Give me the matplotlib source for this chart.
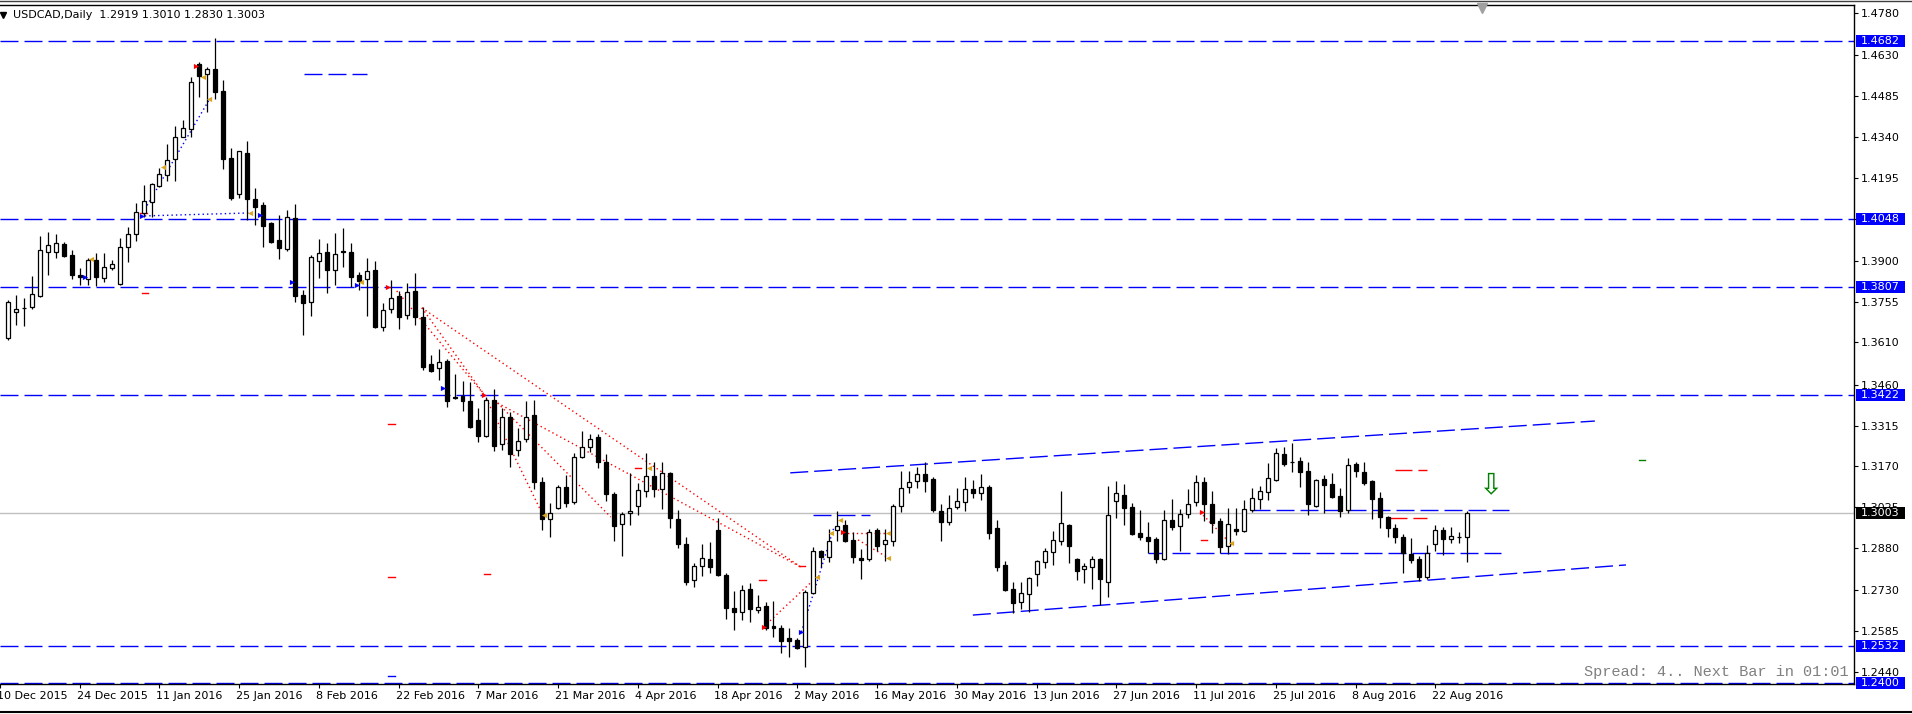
import numpy as np
import pandas as pd
import matplotlib
matplotlib.use('Agg')
import matplotlib.pyplot as plt
from matplotlib.patches import Rectangle
from matplotlib.transforms import blended_transform_factory

plt.rcParams['font.family'] = ['DejaVu Sans']
plt.rcParams['lines.scale_dashes'] = False

# trading days (no bars on 25 Dec and 1 Jan); first one only carries the clipped label
all_dates = [d for d in pd.bdate_range('2015-12-10', '2016-08-26')
             if (d.month, d.day) not in [(12, 25), (1, 1)]]
bar_dates = all_dates[1:]

opens = [1.3626, 1.3718, 1.3731, 1.3736, 1.3775, 1.3931, 1.3931, 1.3960, 1.3921, 1.3850,
         1.3836, 1.3903, 1.3839, 1.3875, 1.3818, 1.3949, 1.3995, 1.4070, 1.4109, 1.4166,
         1.4205, 1.4262, 1.4340, 1.4368, 1.4599, 1.4563, 1.4581, 1.4503, 1.4265, 1.4137,
         1.4283, 1.4120, 1.4098, 1.4034, 1.3974, 1.3942, 1.4052, 1.3779, 1.3754, 1.3899,
         1.3931, 1.3867, 1.3935, 1.3931, 1.3850, 1.3836, 1.3867, 1.3665, 1.3729, 1.3775,
         1.3708, 1.3793, 1.3701, 1.3533, 1.3518, 1.3543, 1.3417, 1.3420, 1.3402, 1.3335,
         1.3278, 1.3406, 1.3250, 1.3346, 1.3228, 1.3268, 1.3353, 1.3115, 1.2983, 1.3022,
         1.3097, 1.3044, 1.3204, 1.3239, 1.3275, 1.3186, 1.3072, 1.2965, 1.3005, 1.3029,
         1.3083, 1.3136, 1.3090, 1.3147, 1.2983, 1.2894, 1.2767, 1.2816, 1.2841, 1.2944,
         1.2784, 1.2667, 1.2653, 1.2735, 1.2660, 1.2674, 1.2603, 1.2596, 1.2561, 1.2554,
         1.2529, 1.2720, 1.2870, 1.2848, 1.2944, 1.2962, 1.2909, 1.2843, 1.2841, 1.2944,
         1.2894, 1.2905, 1.3029, 1.3097, 1.3118, 1.3143, 1.3125, 1.3012, 1.2973, 1.3026,
         1.3044, 1.3090, 1.3076, 1.3097, 1.2951, 1.2820, 1.2735, 1.2689, 1.2717, 1.2788,
         1.2831, 1.2866, 1.2905, 1.2962, 1.2841, 1.2806, 1.2813, 1.2841, 1.2760, 1.3047,
         1.3068, 1.3026, 1.2934, 1.2919, 1.2912, 1.2841, 1.2980, 1.2958, 1.3001, 1.3044,
         1.3115, 1.3037, 1.2976, 1.2887, 1.2946, 1.2941, 1.3015, 1.3054, 1.3079, 1.3122,
         1.3214, 1.3187, 1.3189, 1.3154, 1.3029, 1.3125, 1.3108, 1.3065, 1.3015, 1.3179,
         1.3150, 1.3118, 1.3058, 1.2990, 1.2951, 1.2919, 1.2859, 1.2841, 1.2777, 1.2894,
         1.2944, 1.2912, 1.2918, 1.2919]
highs = [1.3761, 1.3779, 1.3768, 1.3846, 1.3988, 1.4002, 1.3995, 1.3967, 1.3938, 1.3875,
         1.3910, 1.3928, 1.3928, 1.3903, 1.3981, 1.4020, 1.4105, 1.4169, 1.4176, 1.4230,
         1.4315, 1.4379, 1.4400, 1.4553, 1.4606, 1.4588, 1.4691, 1.4542, 1.4301, 1.4291,
         1.4326, 1.4159, 1.4109, 1.4038, 1.4063, 1.4081, 1.4102, 1.3796, 1.3921, 1.3978,
         1.3963, 1.3999, 1.4017, 1.3963, 1.3860, 1.3910, 1.3899, 1.3750, 1.3832, 1.3793,
         1.3821, 1.3857, 1.3736, 1.3565, 1.3586, 1.3550, 1.3498, 1.3473, 1.3470, 1.3378,
         1.3417, 1.3445, 1.3378, 1.3363, 1.3306, 1.3402, 1.3406, 1.3132, 1.3040, 1.3104,
         1.3140, 1.3218, 1.3296, 1.3285, 1.3285, 1.3214, 1.3079, 1.3008, 1.3147, 1.3111,
         1.3218, 1.3186, 1.3186, 1.3150, 1.3015, 1.2919, 1.2827, 1.2894, 1.2902, 1.2987,
         1.2791, 1.2728, 1.2749, 1.2756, 1.2713, 1.2689, 1.2692, 1.2607, 1.2596, 1.2561,
         1.2731, 1.2884, 1.2873, 1.2948, 1.3012, 1.2980, 1.2937, 1.2877, 1.2948, 1.2951,
         1.2948, 1.3037, 1.3154, 1.3154, 1.3168, 1.3186, 1.3132, 1.3037, 1.3068, 1.3093,
         1.3132, 1.3122, 1.3143, 1.3104, 1.2980, 1.2834, 1.2760, 1.2760, 1.2777, 1.2838,
         1.2880, 1.2941, 1.3083, 1.2965, 1.2845, 1.2827, 1.2852, 1.2845, 1.3100, 1.3118,
         1.3108, 1.3040, 1.3015, 1.2973, 1.2919, 1.3015, 1.3054, 1.3019, 1.3090, 1.3140,
         1.3132, 1.3083, 1.2987, 1.3022, 1.3022, 1.3051, 1.3093, 1.3100, 1.3182, 1.3236,
         1.3239, 1.3253, 1.3204, 1.3186, 1.3125, 1.3140, 1.3147, 1.3093, 1.3200, 1.3186,
         1.3186, 1.3122, 1.3079, 1.2994, 1.2965, 1.2930, 1.2916, 1.2852, 1.2891, 1.2962,
         1.2955, 1.2955, 1.2937, 1.3010]
lows = [1.3619, 1.3672, 1.3669, 1.3729, 1.3770, 1.3850, 1.3910, 1.3914, 1.3836, 1.3814,
        1.3814, 1.3811, 1.3825, 1.3867, 1.3815, 1.3896, 1.3970, 1.4056, 1.4056, 1.4163,
        1.4183, 1.4183, 1.4338, 1.4340, 1.4482, 1.4429, 1.4475, 1.4226, 1.4116, 1.4123,
        1.4045, 1.4027, 1.3949, 1.3965, 1.3907, 1.3935, 1.3754, 1.3637, 1.3704, 1.3839,
        1.3786, 1.3814, 1.3878, 1.3807, 1.3796, 1.3704, 1.3663, 1.3651, 1.3715, 1.3658,
        1.3693, 1.3672, 1.3511, 1.3504, 1.3477, 1.3381, 1.3409, 1.3367, 1.3306, 1.3257,
        1.3275, 1.3225, 1.3228, 1.3168, 1.3207, 1.3257, 1.3090, 1.2944, 1.2919, 1.3019,
        1.3026, 1.3036, 1.3200, 1.3221, 1.3165, 1.3047, 1.2905, 1.2852, 1.2962, 1.2997,
        1.3061, 1.3061, 1.3019, 1.2951, 1.2880, 1.2749, 1.2742, 1.2781, 1.2791, 1.2781,
        1.2628, 1.2589, 1.2625, 1.2618, 1.2649, 1.2589, 1.2564, 1.2507, 1.2493, 1.2522,
        1.2458, 1.2716, 1.2813, 1.2831, 1.2905, 1.2901, 1.2827, 1.2770, 1.2834, 1.2870,
        1.2834, 1.2887, 1.3008, 1.3076, 1.3093, 1.3079, 1.3008, 1.2905, 1.2962, 1.3019,
        1.3012, 1.3058, 1.3051, 1.2912, 1.2799, 1.2727, 1.2649, 1.2664, 1.2653, 1.2745,
        1.2809, 1.2820, 1.2891, 1.2827, 1.2767, 1.2756, 1.2735, 1.2678, 1.2706, 1.2987,
        1.2962, 1.2927, 1.2909, 1.2863, 1.2827, 1.2838, 1.2944, 1.2870, 1.2987, 1.3029,
        1.2976, 1.2934, 1.2863, 1.2859, 1.2926, 1.2937, 1.3008, 1.3019, 1.3051, 1.3118,
        1.3172, 1.3150, 1.3097, 1.2997, 1.3026, 1.3005, 1.3058, 1.2990, 1.3005, 1.3132,
        1.3104, 1.2983, 1.2951, 1.2919, 1.2898, 1.2791, 1.2827, 1.2763, 1.2770, 1.2870,
        1.2855, 1.2898, 1.2898, 1.2830]
closes = [1.3754, 1.3729, 1.3733, 1.3782, 1.3938, 1.3956, 1.3963, 1.3917, 1.3850, 1.3843,
          1.3903, 1.3843, 1.3878, 1.3889, 1.3949, 1.3995, 1.4073, 1.4112, 1.4173, 1.4208,
          1.4258, 1.4340, 1.4372, 1.4535, 1.4556, 1.4581, 1.4500, 1.4262, 1.4123, 1.4290,
          1.4120, 1.4091, 1.4024, 1.3967, 1.3946, 1.4056, 1.3775, 1.3750, 1.3914, 1.3928,
          1.3867, 1.3924, 1.3932, 1.3843, 1.3828, 1.3864, 1.3665, 1.3725, 1.3768, 1.3701,
          1.3789, 1.3701, 1.3522, 1.3508, 1.3540, 1.3402, 1.3413, 1.3402, 1.3310, 1.3278,
          1.3406, 1.3243, 1.3346, 1.3214, 1.3260, 1.3346, 1.3115, 1.2983, 1.3005, 1.3097,
          1.3040, 1.3204, 1.3239, 1.3268, 1.3186, 1.3072, 1.2958, 1.3001, 1.3012, 1.3086,
          1.3136, 1.3090, 1.3147, 1.2987, 1.2894, 1.2760, 1.2816, 1.2845, 1.2813, 1.2784,
          1.2667, 1.2653, 1.2731, 1.2664, 1.2671, 1.2596, 1.2596, 1.2550, 1.2550, 1.2525,
          1.2724, 1.2870, 1.2848, 1.2905, 1.2958, 1.2905, 1.2848, 1.2839, 1.2937, 1.2887,
          1.2909, 1.3029, 1.3093, 1.3115, 1.3143, 1.3118, 1.3015, 1.2973, 1.3022, 1.3047,
          1.3090, 1.3076, 1.3097, 1.2934, 1.2813, 1.2731, 1.2685, 1.2720, 1.2774, 1.2834,
          1.2870, 1.2909, 1.2969, 1.2887, 1.2799, 1.2816, 1.2841, 1.2770, 1.2997, 1.3076,
          1.3022, 1.2930, 1.2919, 1.2905, 1.2841, 1.2980, 1.2955, 1.3001, 1.3037, 1.3115,
          1.3037, 1.2969, 1.2884, 1.2965, 1.2942, 1.3019, 1.3058, 1.3083, 1.3129, 1.3218,
          1.3179, 1.3185, 1.3150, 1.3037, 1.3122, 1.3104, 1.3061, 1.3012, 1.3175, 1.3154,
          1.3111, 1.3054, 1.2990, 1.2951, 1.2919, 1.2863, 1.2838, 1.2777, 1.2863, 1.2944,
          1.2912, 1.2923, 1.2920, 1.3003]

# support / resistance levels and last price
levels = [1.4682, 1.4048, 1.3807, 1.3422, 1.2532, 1.2400]
last_price = closes[-1]
y_ticks = [1.4780, 1.4630, 1.4485, 1.4340, 1.4195, 1.4050, 1.3900, 1.3755, 1.3610,
           1.3460, 1.3315, 1.3170, 1.3025, 1.2880, 1.2730, 1.2585, 1.2440]

# objects drawn on the chart, as (bar, price)
channel_upper = [(98.1, 1.3147), (199.0, 1.3331)]
channel_lower = [(121.0, 1.2642), (202.9, 1.2820)]
blue_segments = [(37.1, 45.0, 1.4563), (100.9, 108.1, 1.2997),
                 (143.0, 187.25, 1.2862), (156.0, 188.25, 1.3015)]
red_segments = [(173.25, 178.0, 1.2987), (174.0, 178.0, 1.3157)]
red_marks = [(17.2, 1.3786), (17.0, 1.4070), (48.1, 1.3321), (48.1, 1.2777), (60.1, 1.2788),
             (79.0, 1.3164), (94.6, 1.2767), (99.6, 1.2816), (150.0, 1.2909)]
blue_marks = [(48.1, 1.2426)]
green_marks = [(204.9, 1.3193)]
blue_dotted = [[(16.6, 1.4056), (25.3, 1.4475)],
               [(16.6, 1.4059), (30.4, 1.4070)],
               [(99.5, 1.2582), (103.6, 1.2955)]]
red_dotted = [[(48.75, 1.3793), (59.75, 1.3424)],
              [(51.9, 1.3733), (59.75, 1.3424)],
              [(51.9, 1.3733), (99.4, 1.2813)],
              [(59.75, 1.3424), (66.9, 1.3008)],
              [(61.4, 1.3395), (75.6, 1.2990)],
              [(61.4, 1.3395), (99.4, 1.2813)],
              [(94.75, 1.2600), (100.75, 1.2759)],
              [(104.75, 1.2934), (110.4, 1.2934)],
              [(106.6, 1.2909), (110.4, 1.2845)],
              [(149.5, 1.3008), (153.5, 1.2891)]]
red_arrows = [(23.6, 1.4593), (47.6, 1.3807), (59.75, 1.3424), (94.75, 1.2600),
              (104.75, 1.2937), (149.75, 1.3008)]
blue_arrows = [(16.75, 1.4059), (9.6, 1.3843), (31.6, 1.4063), (35.6, 1.3825),
               (43.75, 1.3814), (54.5, 1.3448), (99.5, 1.2582)]
gold_arrows = [(19.4, 1.4233), (25.25, 1.4475), (24.4, 1.4553), (30.4, 1.4070),
               (10.4, 1.3906), (44.25, 1.3825), (80.4, 1.3164), (67.25, 1.2997),
               (104.4, 1.2980), (103.25, 1.2934), (101.4, 1.2777), (110.4, 1.2934),
               (110.4, 1.2845), (153.4, 1.2898)]
signal_arrow = (185.9, 1.3104)

W, H = 1912, 714
PX = 2816.0  # pixels per price unit on this chart
fig = plt.figure(figsize=(W / 100, H / 100), dpi=100)
ax = fig.add_axes([0, 1 - 684 / H, 1854 / W, (684 - 5) / H])
ax.set_xlim(-0.25, 231.5)
ax.set_ylim(1.4780 - 671 / PX, 1.4780 + 8 / PX)

dash = (0, (12.96, 4.32))
dots = (0, (1.0, 2.2))
blue = '#0000ff'

for lv in levels:
    ax.axhline(lv, color=blue, lw=1.0, ls=dash, zorder=2)
ax.axhline(last_price, color='#c0c0c0', lw=1.0, zorder=1)

for seg in (channel_upper, channel_lower):
    ax.plot([p[0] for p in seg], [p[1] for p in seg], color=blue, lw=1.0, ls=dash, zorder=2)
for k0, k1, pr in blue_segments:
    ax.plot([k0, k1], [pr, pr], color=blue, lw=1.0, ls=dash, zorder=2)
for k0, k1, pr in red_segments:
    ax.plot([k0, k1], [pr, pr], color='red', lw=1.0, ls=(0, (12.2, 4.3)), zorder=2)
for pts, col in [(red_marks, 'red'), (blue_marks, blue), (green_marks, 'green')]:
    for k, pr in pts:
        ax.plot([k - 0.4, k + 0.4], [pr, pr], color=col, lw=1.0, zorder=2)
for seg in blue_dotted:
    ax.plot([p[0] for p in seg], [p[1] for p in seg], color=blue, lw=1.0, ls=dots, zorder=2)
for seg in red_dotted:
    ax.plot([p[0] for p in seg], [p[1] for p in seg], color='red', lw=1.0, ls=dots, zorder=2)

# candles
x = np.arange(len(closes))
o, h, l, c = map(np.array, (opens, highs, lows, closes))
up = c >= o
ax.vlines(x, l, h, color='black', lw=0.9, zorder=3)
ax.bar(x, np.maximum(np.abs(c - o), 0.00005), 0.5, bottom=np.minimum(o, c),
       color=np.where(up, 'white', 'black'), edgecolor='black', lw=0.9, zorder=4)

for pts, col, mk in [(red_arrows, 'red', '>'), (blue_arrows, blue, '>'),
                     (gold_arrows, '#daa520', '<')]:
    ax.scatter([p[0] for p in pts], [p[1] for p in pts], marker=mk, s=14,
               color=col, zorder=5, linewidths=0)
ax.text(signal_arrow[0], signal_arrow[1], '\u21e9', color='#008000', fontsize=21,
        ha='center', va='center', zorder=6)

# frame
for side in ['top', 'bottom', 'right']:
    ax.spines[side].set_color('black')
    ax.spines[side].set_linewidth(1.0)
ax.spines['left'].set_visible(False)

ax.yaxis.tick_right()
ax.set_yticks(y_ticks)
ax.set_yticklabels([f'{t:.4f}' for t in y_ticks])
ax.tick_params(axis='y', length=3, width=0.8, labelsize=8, pad=2, colors='black')

label_idx = list(range(0, len(all_dates), 10))
ax.set_xticks([j - 1 for j in label_idx])
ax.set_xticklabels([])
ax.tick_params(axis='x', length=3, width=0.8)
tx = blended_transform_factory(ax.transData, fig.transFigure)
for j in label_idx:
    d = all_dates[j]
    ax.text(j - 1.4, (H - 696) / H, f'{d.day} {d:%b %Y}', transform=tx,
            ha='left', va='center', fontsize=8, clip_on=False)

# price boxes on the right scale
ty = blended_transform_factory(fig.transFigure, ax.transData)
for lv, bg in [(v, blue) for v in levels] + [(last_price, 'black')]:
    fig.add_artist(Rectangle((1856 / W, lv - 6 / PX), 49 / W, 12 / PX, transform=ty,
                             facecolor=bg, edgecolor='none', zorder=5))
    fig.text(1861 / W, lv, f'{lv:.4f}', transform=ty, color='white', fontsize=8,
             va='center', ha='left', zorder=6)

# header and status text
fig.text(13 / W, 1 - 15 / H,
         f'USDCAD,Daily  {opens[-1]:.4f} {highs[-1]:.4f} {lows[-1]:.4f} {closes[-1]:.4f}',
         fontsize=8, va='center', ha='left')
fig.add_artist(plt.Line2D([3 / W], [1 - 15 / H], marker='v', color='black',
                          markersize=4, linestyle='none'))
fig.add_artist(plt.Line2D([1482 / W], [1 - 8 / H], marker='v', color='#a0a0a0',
                          markersize=7, linestyle='none'))
fig.text(1849 / W, 1 - 672 / H, 'Spread: 4.. Next Bar in 01:01', family='Liberation Mono',
         fontsize=11, color='#808080', ha='right', va='center')
fig.add_artist(plt.Line2D([0, 1], [1 - 0.5 / H, 1 - 0.5 / H], color='#404040', lw=1.0))
fig.add_artist(plt.Line2D([0, 1], [2 / H, 2 / H], color='black', lw=1.5))

fig.savefig('out.png', dpi=100, facecolor='white')
